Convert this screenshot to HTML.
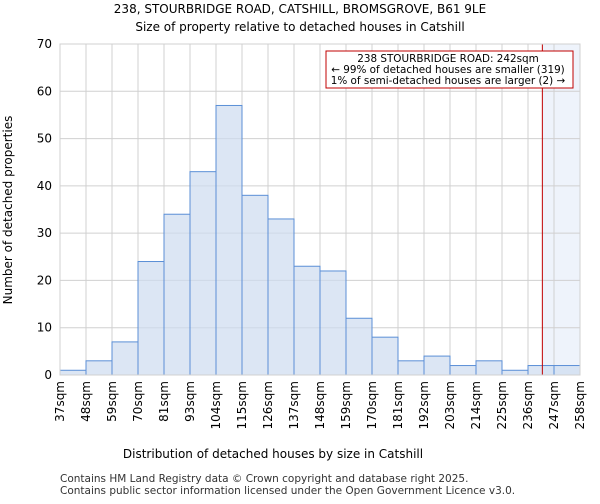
<!DOCTYPE html>
<html><head><meta charset="utf-8"><style>
body{margin:0;background:#fff;font-family:"DejaVu Sans","Liberation Sans",sans-serif}
</style></head><body>
<svg width="600" height="500" xmlns="http://www.w3.org/2000/svg" font-family="DejaVu Sans, Liberation Sans, sans-serif">
<text x="300" y="13" text-anchor="middle" font-size="12">238, STOURBRIDGE ROAD, CATSHILL, BROMSGROVE, B61 9LE</text>
<text x="300" y="31" text-anchor="middle" font-size="12">Size of property relative to detached houses in Catshill</text>
<g id="grid"></g>
<g id="bars"></g>
<g id="axes"></g>
<text x="273" y="458" text-anchor="middle" font-size="12">Distribution of detached houses by size in Catshill</text>
<text transform="translate(12,210) rotate(-90)" text-anchor="middle" font-size="12">Number of detached properties</text>
<text x="60" y="482" font-size="10.5" fill="#333">Contains HM Land Registry data © Crown copyright and database right 2025.</text>
<text x="60" y="494" font-size="10.5" fill="#333">Contains public sector information licensed under the Open Government Licence v3.0.</text>
</svg>
<script>
const categories=["37sqm","48sqm","59sqm","70sqm","81sqm","93sqm","104sqm","115sqm","126sqm","137sqm","148sqm","159sqm","170sqm","181sqm","192sqm","203sqm","214sqm","225sqm","236sqm","247sqm","258sqm"];
const counts=[1,3,7,24,34,43,57,38,33,23,22,12,8,3,4,2,3,1,2,2];
const yTicks=[0,10,20,30,40,50,60,70];
const binStart=37, binWidth=11.05, propertySize=242;
const x0=60,x1=580,y0=375,y1=44,yMax=70;
const NS="http://www.w3.org/2000/svg";
const bw=(x1-x0)/counts.length;
const xs=i=>x0+i*bw;
const xv=v=>x0+(v-binStart)/binWidth*bw;
const ys=v=>y0-(v/yMax)*(y0-y1);
function mk(t,a,p){const e=document.createElementNS(NS,t);for(const k in a)e.setAttribute(k,a[k]);p.appendChild(e);return e;}
const grid=document.getElementById('grid'),bars=document.getElementById('bars'),axes=document.getElementById('axes');
const svg=document.querySelector('svg');
const px=xv(propertySize);
const hl=mk('rect',{x:px,y:y1,width:x1-px,height:y0-y1,fill:'#eef3fb'},grid);


yTicks.forEach(t=>{
 const l=mk('line',{x1:x0,x2:x1,y1:ys(t),y2:ys(t),stroke:'#d0d0d0','stroke-width':1},grid);
 
 
 const tx=mk('text',{x:x0-8,y:ys(t)+4,'text-anchor':'end','font-size':12},axes);
 tx.textContent=t;
 
 
});
categories.forEach((c,i)=>{
 const x=xs(i);
 const l=mk('line',{x1:x,x2:x,y1:y1,y2:y0,stroke:'#d0d0d0','stroke-width':1},grid);
 
 
 const tx=mk('text',{transform:`translate(${x+4},${y0+6}) rotate(-90)`,'text-anchor':'end','font-size':12},axes);
 tx.textContent=c;
 
 
});
counts.forEach((v,i)=>{
 const r=mk('rect',{x:xs(i),y:ys(v),width:bw,height:y0-ys(v),fill:'rgba(205,220,240,0.7)',stroke:'#5b8fd6','stroke-width':1},bars);
 
 
});
const ln=mk('line',{x1:px,x2:px,y1:y1,y2:y0,stroke:'#c00000','stroke-width':1},bars);


const fr=mk('rect',{x:x0,y:y1,width:x1-x0,height:y0-y1,fill:'none',stroke:'#d0d0d0'},axes);


const g=mk('g',{},svg);


mk('rect',{x:326,y:51,width:247,height:37,fill:'#fff',stroke:'#c00000','stroke-width':1},g);
["238 STOURBRIDGE ROAD: 242sqm","← 99% of detached houses are smaller (319)","1% of semi-detached houses are larger (2) →"].forEach((s,i)=>{
 const t=mk('text',{x:448,y:62+i*11,'text-anchor':'middle','font-size':10.4},g);
 t.textContent=s;
 
 
});
</script>
</body></html>
